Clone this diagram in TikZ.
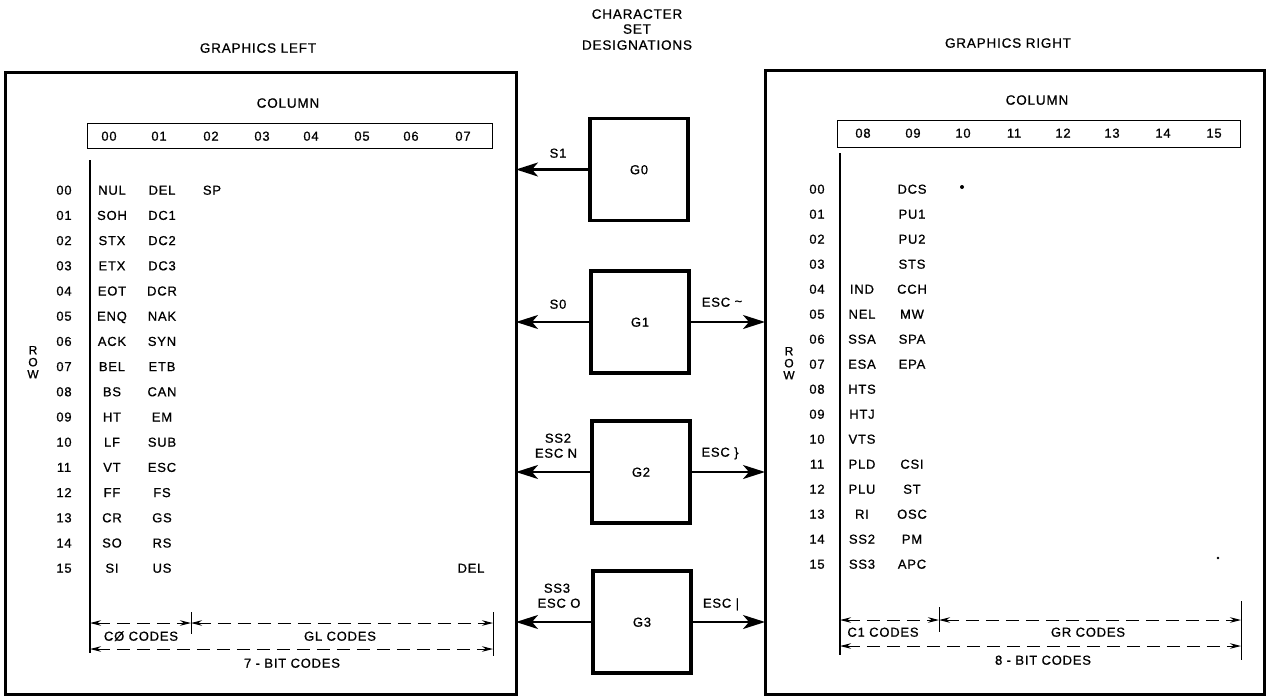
\documentclass[tikz,border=0pt]{standalone}
\usepackage{fontspec}
\setmainfont{Liberation Sans}[LetterSpace=6,FakeBold=0.8]
\usetikzlibrary{arrows.meta}
\begin{document}
\begin{tikzpicture}[x=1pt,y=-1pt,
  every node/.style={inner sep=0pt, outer sep=0pt, text height=9.4pt, text depth=0pt,
    font=\fontsize{13}{15}\selectfont},
  hdr/.style={font=\fontsize{13.5}{15}\selectfont},
  rowlet/.style={font=\fontsize{12}{13}\selectfont, text height=8.6pt},
  bigbox/.style={draw, line width=3pt, text height=, text depth=},
  gbox/.style={draw, line width=3.4pt, minimum width=98pt, minimum height=102pt},
  colbox/.style={draw, line width=1pt},
  bigarrow/.style={line width=2.2pt, -{Stealth[length=22pt,width=14pt,inset=6pt]}},
  dimline/.style={line width=1pt, dash pattern=on 13pt off 7pt,
    {Stealth[length=11pt,width=5.5pt]}-{Stealth[length=11pt,width=5.5pt]}},
  tick/.style={line width=1pt},
  axis/.style={line width=1.1pt}]
\useasboundingbox (0,0) rectangle (1271,696);

% headers
\node[hdr] (hl) at (258,48) {GRAPHICS LEFT};
\node[hdr] (hc1) at (637,14) {CHARACTER};
\node[hdr] (hc2) at (637,29) {SET};
\node[hdr] (hc3) at (637,45) {DESIGNATIONS};
\node[hdr] (hr) at (1008,43) {GRAPHICS RIGHT};

% big boxes
\node[bigbox, minimum width=511pt, minimum height=622pt] (L) at (260.5,383) {};
\node[bigbox, minimum width=499pt, minimum height=624pt] (R) at (1014.5,382) {};

% G boxes
\node[gbox] (g0) at (639,169.5) {G0};
\node[gbox] (g1) at (640,322) {G1};
\node[gbox] (g2) at (641,472) {G2};
\node[gbox] (g3) at (642,622) {G3};

% arrows
\draw[bigarrow] (g0.west) -- (g0.west -| L.east);
\draw[bigarrow] (g1.west) -- (g1.west -| L.east);
\draw[bigarrow] (g2.west) -- (g2.west -| L.east);
\draw[bigarrow] (g3.west) -- (g3.west -| L.east);
\draw[bigarrow] (g1.east) -- (g1.east -| R.west);
\draw[bigarrow] (g2.east) -- (g2.east -| R.west);
\draw[bigarrow] (g3.east) -- (g3.east -| R.west);

% arrow labels
\node (s1) at (558,153) {S1};
\node (s0) at (558,304) {S0};
\node (ss2) at (558,438) {SS2};
\node (escn) at (556,453) {ESC N};
\node (ss3) at (557,588) {SS3};
\node (esco) at (559,603) {ESC O};
\node (esct) at (722,302) {ESC \raisebox{1pt}{\char`\~}};
\node (escb) at (720,452) {ESC \}};
\node (escp) at (721,603) {ESC |};

% ---------- left table ----------
\node[hdr] (lcol) at (288,103) {COLUMN};
\draw[colbox] (87,123) rectangle (492,148);
\foreach \c/\x [count=\i from 0] in {00/109,01/159,02/211,03/262,04/311,05/362,06/411,07/463}
  \node (lc\i) at (\x,136) {\c};
\coordinate (lvt) at (90,160);
\coordinate (lvb) at (90,653);
\draw[axis] (lvt) -- (lvb);
\foreach \r [count=\i from 0] in {00,01,02,03,04,05,06,07,08,09,10,11,12,13,14,15}
  \node (lr\i) at (64,{190+25.2*\i}) {\r};
\foreach \t [count=\i from 0] in {NUL,SOH,STX,ETX,EOT,ENQ,ACK,BEL,BS,HT,LF,VT,FF,CR,SO,SI}
  \node (la\i) at (112,{190+25.2*\i}) {\t};
\foreach \t [count=\i from 0] in {DEL,DC1,DC2,DC3,DCR,NAK,SYN,ETB,CAN,EM,SUB,ESC,FS,GS,RS,US}
  \node (lb\i) at (162,{190+25.2*\i}) {\t};
\node (lsp) at (212,190) {SP};
\node (ldel) at (471,568) {DEL};
\node[rowlet] (lrR) at (33,350) {R};
\node[rowlet] (lrO) at (33,362) {O};
\node[rowlet] (lrW) at (33,374) {W};

% left dimensions
\coordinate (la1) at (90,623);
\coordinate (lm1) at (191,623);
\coordinate (le1) at (493,623);
\coordinate (la2) at (90,649);
\coordinate (le2) at (493,649);
\draw[dimline] (la1) -- (lm1);
\draw[dimline] (lm1) -- (le1);
\draw[dimline] (la2) -- (le2);
\coordinate (lmt) at (191,612);
\coordinate (lmb) at (191,634);
\coordinate (let) at (493,612);
\coordinate (leb) at (493,656);
\draw[tick] (lmt) -- (lmb);
\draw[tick] (let) -- (leb);
\node (c0) at (141,636) {CØ CODES};
\node (gl) at (340,636) {GL CODES};
\node (b7) at (292,663) {7 - BIT CODES};

% ---------- right table ----------
\node[hdr] (rcol) at (1037,100) {COLUMN};
\draw[colbox] (837,120) rectangle (1240,147);
\foreach \c/\x [count=\i from 0] in {08/863,09/913,10/963,11/1014,12/1063,13/1112,14/1163,15/1214}
  \node (rc\i) at (\x,133) {\c};
\coordinate (rvt) at (840,153);
\coordinate (rvb) at (840,655);
\draw[axis] (rvt) -- (rvb);
\foreach \r [count=\i from 0] in {00,01,02,03,04,05,06,07,08,09,10,11,12,13,14,15}
  \node (rr\i) at (817,{189+25*\i}) {\r};
\foreach \t [count=\i from 4] in {IND,NEL,SSA,ESA,HTS,HTJ,VTS,PLD,PLU,RI,SS2,SS3}
  \node (ra\i) at (862,{189+25*\i}) {\t};
\foreach \t [count=\i from 0] in {DCS,PU1,PU2,STS,CCH,MW,SPA,EPA}
  \node (rb\i) at (912,{189+25*\i}) {\t};
\foreach \t [count=\i from 11] in {CSI,ST,OSC,PM,APC}
  \node (rb\i) at (912,{189+25*\i}) {\t};
\node[rowlet] (rrR) at (789,351) {R};
\node[rowlet] (rrO) at (789,363) {O};
\node[rowlet] (rrW) at (789,375) {W};
\fill (962,187) circle (2pt);
\fill (1218,558) circle (1.4pt);

% right dimensions
\coordinate (ra1) at (840,620);
\coordinate (rm1) at (939,620);
\coordinate (re1) at (1241,620);
\coordinate (ra2) at (840,646);
\coordinate (re2) at (1241,646);
\draw[dimline] (ra1) -- (rm1);
\draw[dimline] (rm1) -- (re1);
\draw[dimline] (ra2) -- (re2);
\coordinate (rmt) at (939,607);
\coordinate (rmb) at (939,632);
\coordinate (ret) at (1241,601);
\coordinate (reb) at (1241,660);
\draw[tick] (rmt) -- (rmb);
\draw[tick] (ret) -- (reb);
\node (c1) at (883,632) {C1 CODES};
\node (gr) at (1088,632) {GR CODES};
\node (b8) at (1043,660) {8 - BIT CODES};
\end{tikzpicture}
\end{document}
